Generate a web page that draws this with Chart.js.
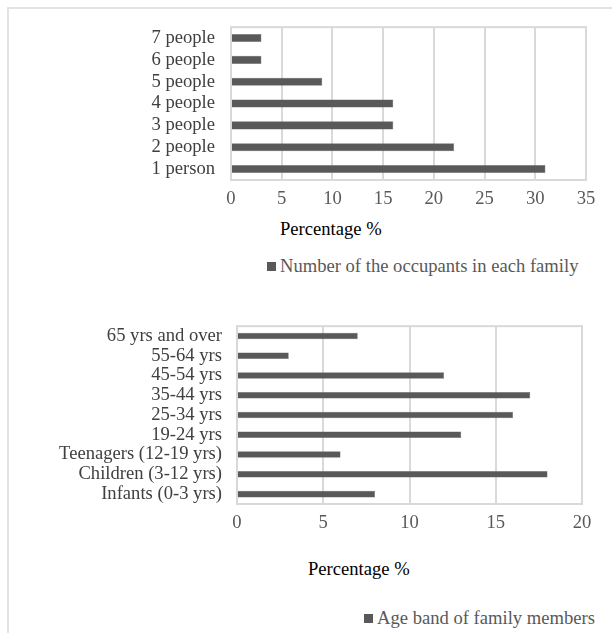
<!DOCTYPE html>
<html>
<head>
<meta charset="utf-8">
<script src="https://cdn.jsdelivr.net/npm/chart.js@4.4.1/dist/chart.umd.min.js"></script>
<style>
  body { margin: 0; background: #fff; font-family: "Liberation Serif", "Times New Roman", serif; }
  #page { position: relative; width: 612px; height: 633px; overflow: hidden; }
  .frame { position: absolute; left: 7px; top: 7px; width: 620px; height: 640px;
           border-left: 2px solid #e3e3e3; border-top: 2px solid #e3e3e3; }
  canvas { position: absolute; left: 0; }
  .axis-title { position: absolute; font-size: 18.6px; line-height: 20px; color: #000; white-space: nowrap; }
  .legend { position: absolute; font-size: 18.6px; line-height: 20px; color: #595959; white-space: nowrap; }
  .legend span { display: inline-block; width: 9px; height: 9px; background: #595959; margin-right: 4px; vertical-align: 1px; }
</style>
</head>
<body>
<div id="page">
  <div class="frame"></div>
  <canvas id="occupantsChart" width="612" height="215" style="top:0"></canvas>
  <div class="axis-title" style="left:280px; top:219px">Percentage %</div>
  <div class="legend" id="legend1" style="left:267px; top:256px"></div>

  <canvas id="ageChart" width="612" height="235" style="top:300px"></canvas>
  <div class="axis-title" style="left:308px; top:559px">Percentage %</div>
  <div class="legend" id="legend2" style="left:364px; top:608px"></div>
</div>
<script>
const occupantLabels = ["7 people", "6 people", "5 people", "4 people", "3 people", "2 people", "1 person"];
const occupantValues = [3, 3, 9, 16, 16, 22, 31];

const ageLabels = ["65 yrs and over", "55-64 yrs", "45-54 yrs", "35-44 yrs", "25-34 yrs", "19-24 yrs",
    "Teenagers (12-19 yrs)", "Children (3-12 yrs)", "Infants (0-3 yrs)"];
const ageValues = [7, 3, 12, 17, 16, 13, 6, 18, 8];

const fontFamily = '"Liberation Serif", "Times New Roman", serif';
const barColor = "#595959";
const gridColor = "#d9d9d9";

// draws the grey box round the plot area, under the bars
const plotBox = {
    id: "plotBox",
    beforeDatasetsDraw(chart) {
        const { ctx, chartArea } = chart;
        ctx.save();
        ctx.strokeStyle = gridColor;
        ctx.lineWidth = 2;
        ctx.strokeRect(chartArea.left, chartArea.top, chartArea.right - chartArea.left, chartArea.bottom - chartArea.top);
        ctx.restore();
    }
};

const makeChart = (canvasId, labels, values, seriesName, xMax, axisWidth, labelPad, barPct, padding) => {
    const ctx = document.getElementById(canvasId).getContext("2d");
    return new Chart(ctx, {
        type: "bar",
        data: {
            labels: labels,
            datasets: [{
                label: seriesName,
                data: values,
                backgroundColor: barColor,
                borderColor: "#6a6a6a",
                borderWidth: 0.5,
                categoryPercentage: 1,
                barPercentage: barPct
            }]
        },
        options: {
            indexAxis: "y",
            responsive: false,
            animation: false,
            layout: { padding: padding },
            plugins: { legend: { display: false }, tooltip: { enabled: false } },
            scales: {
                x: {
                    min: 0,
                    max: xMax,
                    ticks: { stepSize: 5, padding: 8, color: "#595959", font: { family: fontFamily, size: 18.6 } },
                    grid: { color: gridColor, lineWidth: 2, drawTicks: false },
                    border: { display: false },
                    afterFit: scale => { scale.height = 30; }
                },
                y: {
                    ticks: { autoSkip: false, padding: labelPad, color: "#404040", font: { family: fontFamily, size: 18.6 } },
                    grid: { display: false, drawTicks: false },
                    border: { display: false },
                    afterFit: scale => { scale.width = axisWidth; }
                }
            }
        },
        plugins: [plotBox]
    });
};

const occupantsChart = makeChart("occupantsChart", occupantLabels, occupantValues,
    "Number of the occupants in each family", 35, 231, 16, 0.37, { left: 0, right: 26, top: 27, bottom: 5 });
const ageChart = makeChart("ageChart", ageLabels, ageValues,
    "Age band of family members", 20, 237, 15, 0.33, { left: 0, right: 30, top: 17, bottom: 1 });

// legends built from the dataset names
document.getElementById("legend1").innerHTML = "<span></span>" + occupantsChart.data.datasets[0].label;
document.getElementById("legend2").innerHTML = "<span></span>" + ageChart.data.datasets[0].label;
</script>
</body>
</html>
